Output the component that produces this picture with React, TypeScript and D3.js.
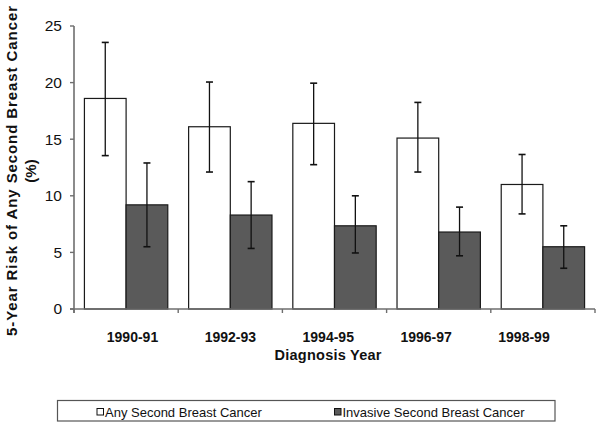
import React from "react";
import * as d3 from "d3";

const categories = ["1990-91", "1992-93", "1994-95", "1996-97", "1998-99"];
const seriesNames = ["Any Second Breast Cancer", "Invasive Second Breast Cancer"];
const anyValues = [18.6, 16.1, 16.4, 15.1, 11.0];
const anyLower = [13.55, 12.1, 12.75, 12.1, 8.4];
const anyUpper = [23.55, 20.05, 19.95, 18.25, 13.65];
const invValues = [9.2, 8.3, 7.35, 6.8, 5.5];
const invLower = [5.5, 5.35, 4.95, 4.7, 3.6];
const invUpper = [12.9, 11.25, 10.0, 9.0, 7.35];
const yTicks = [0, 5, 10, 15, 20, 25];

const W = 600;
const H = 431;
const fills = ["#ffffff", "#5a5a5a"];
const FONT = "'Liberation Sans', Arial, sans-serif";

export default function App() {
  const x = d3.scaleBand<string>().domain(categories).range([74, 595]).paddingInner(0.2).paddingOuter(0.1);
  const xs = d3.scaleBand<string>().domain(seriesNames).range([0, x.bandwidth()]);
  const y = d3.scaleLinear().domain([0, 25]).range([309, 26]);
  const labelX = d3.scalePoint<string>().domain(categories).range([132.5, 524]);
  const step = x.step();
  const boundaries = d3.range(categories.length + 1).map((i) => 74 + i * step);

  const series = [
    { name: seriesNames[0], v: anyValues, lo: anyLower, hi: anyUpper },
    { name: seriesNames[1], v: invValues, lo: invLower, hi: invUpper },
  ];

  return (
    <svg width={W} height={H} style={{ position: "absolute", left: 0, top: 0, background: "#fff" }} fontFamily={FONT}>
      <rect x={0} y={0} width={W} height={H} fill="#fff" />
      {series.map((s, si) =>
        categories.map((c, i) => {
          const bx = (x(c) as number) + (xs(s.name) as number);
          const bw = xs.bandwidth();
          const cx = bx + bw / 2;
          return (
            <g key={s.name + c}>
              <rect x={bx} y={y(s.v[i])} width={bw} height={y(0) - y(s.v[i])} fill={fills[si]} stroke="#1a1a1a" strokeWidth={1.2} />
              <line x1={cx} x2={cx} y1={y(s.hi[i])} y2={y(s.lo[i])} stroke="#111" strokeWidth={1.3} />
              <line x1={cx - 3.5} x2={cx + 3.5} y1={y(s.hi[i])} y2={y(s.hi[i])} stroke="#111" strokeWidth={1.6} />
              <line x1={cx - 3.5} x2={cx + 3.5} y1={y(s.lo[i])} y2={y(s.lo[i])} stroke="#111" strokeWidth={1.6} />
            </g>
          );
        })
      )}
      <line x1={74} x2={74} y1={y(25)} y2={y(0) + 4} stroke="#6e6e6e" strokeWidth={1.6} />
      <line x1={70} x2={595} y1={y(0)} y2={y(0)} stroke="#6e6e6e" strokeWidth={1.6} />
      {yTicks.map((t) => (
        <g key={t}>
          <line x1={70} x2={74} y1={y(t)} y2={y(t)} stroke="#6e6e6e" strokeWidth={1.4} />
          <text x={62} y={y(t)} dy="0.35em" textAnchor="end" fontSize={15.5} fill="#111">
            {t}
          </text>
        </g>
      ))}
      {boundaries.map((b, i) => (
        <line key={i} x1={b} x2={b} y1={y(0)} y2={y(0) + 4} stroke="#6e6e6e" strokeWidth={1.4} />
      ))}
      {categories.map((c) => (
        <text key={c} x={labelX(c)} y={341.5} textAnchor="middle" fontSize={14} fontWeight="bold" fill="#111">
          {c}
        </text>
      ))}
      <text x={328} y={359.5} textAnchor="middle" fontSize={14.5} fontWeight="bold" fill="#111" textLength={107} lengthAdjust="spacing">
        Diagnosis Year
      </text>
      <g transform="translate(17,171) rotate(-90)">
        <text x={0} y={0} textAnchor="middle" fontSize={15} fontWeight="bold" fill="#111" textLength={330} lengthAdjust="spacing">
          5-Year Risk of Any Second Breast Cancer
        </text>
        <text x={0} y={19} textAnchor="middle" fontSize={15} fontWeight="bold" fill="#111">
          (%)
        </text>
      </g>
      <rect x={57.5} y={400.5} width={497.5} height={20.5} fill="#fff" stroke="#555" strokeWidth={1.2} />
      {seriesNames.map((n, i) => {
        const lx = [97, 334.5][i];
        return (
          <g key={n}>
            <rect x={lx} y={408.5} width={6.5} height={6.5} fill={fills[i]} stroke="#111" strokeWidth={1} />
            <text x={lx + 8} y={416.5} fontSize={13} fill="#111">
              {n}
            </text>
          </g>
        );
      })}
    </svg>
  );
}
